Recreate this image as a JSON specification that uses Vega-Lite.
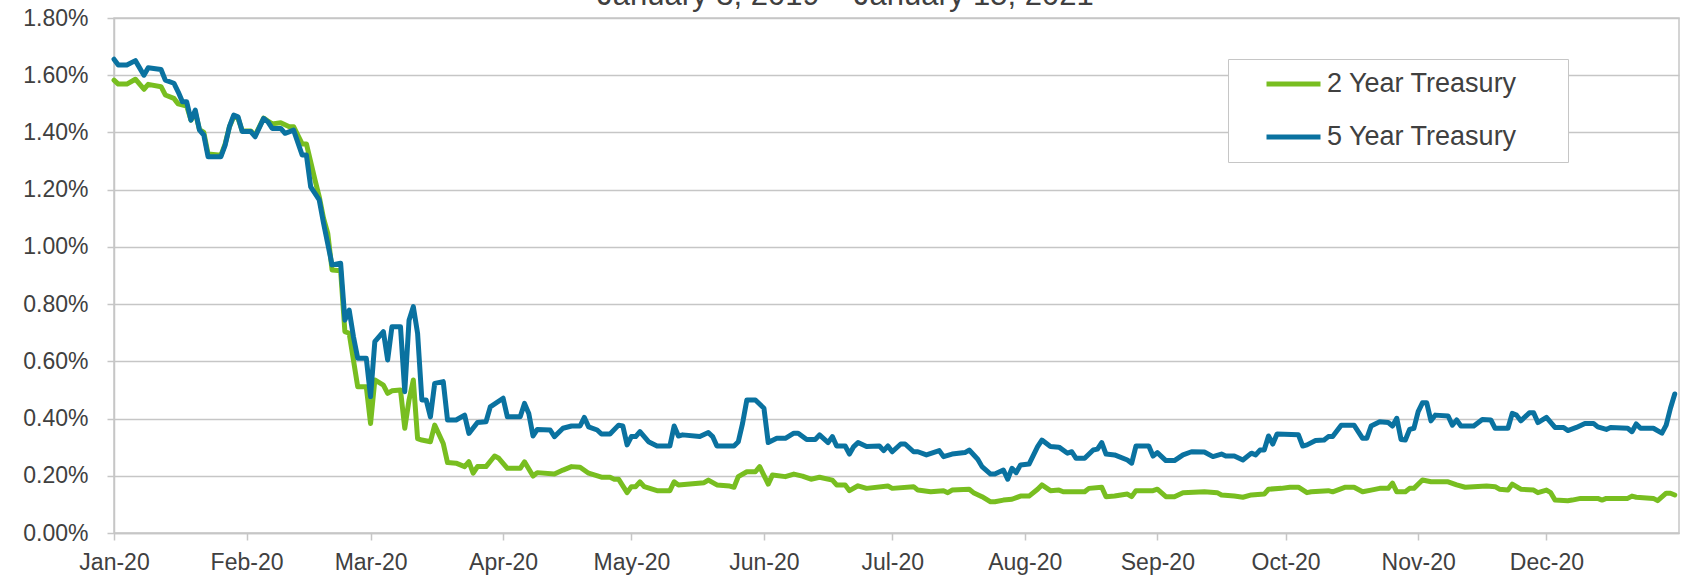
{
  "$schema": "https://vega.github.io/schema/vega-lite/v6.json",
  "autosize": "none",
  "width": 1565,
  "height": 515,
  "padding": {"left": 114, "top": 18, "right": 6, "bottom": 48},
  "background": "white",
  "config": {
    "font": "Liberation Sans",
    "view": {"stroke": "#c6c6c6", "strokeWidth": 1.5}
  },
  "title": {
    "text": "January 3, 2019 – January 15, 2021",
    "fontSize": 31,
    "fontWeight": "normal",
    "color": "#404040",
    "anchor": "middle",
    "frame": "group",
    "offset": -5,
    "dx": -51
  },
  "data": {
    "values": [
      {"date":"2020-01-01","series":"2 Year Treasury","yield":1.583},
      {"date":"2020-01-02","series":"2 Year Treasury","yield":1.569},
      {"date":"2020-01-04","series":"2 Year Treasury","yield":1.569},
      {"date":"2020-01-06","series":"2 Year Treasury","yield":1.586},
      {"date":"2020-01-08","series":"2 Year Treasury","yield":1.551},
      {"date":"2020-01-09","series":"2 Year Treasury","yield":1.568},
      {"date":"2020-01-12","series":"2 Year Treasury","yield":1.560},
      {"date":"2020-01-13","series":"2 Year Treasury","yield":1.531},
      {"date":"2020-01-15","series":"2 Year Treasury","yield":1.519},
      {"date":"2020-01-16","series":"2 Year Treasury","yield":1.500},
      {"date":"2020-01-18","series":"2 Year Treasury","yield":1.492},
      {"date":"2020-01-19","series":"2 Year Treasury","yield":1.443},
      {"date":"2020-01-20","series":"2 Year Treasury","yield":1.470},
      {"date":"2020-01-21","series":"2 Year Treasury","yield":1.410},
      {"date":"2020-01-22","series":"2 Year Treasury","yield":1.400},
      {"date":"2020-01-23","series":"2 Year Treasury","yield":1.325},
      {"date":"2020-01-26","series":"2 Year Treasury","yield":1.320},
      {"date":"2020-01-27","series":"2 Year Treasury","yield":1.360},
      {"date":"2020-01-28","series":"2 Year Treasury","yield":1.420},
      {"date":"2020-01-29","series":"2 Year Treasury","yield":1.455},
      {"date":"2020-01-30","series":"2 Year Treasury","yield":1.450},
      {"date":"2020-01-31","series":"2 Year Treasury","yield":1.405},
      {"date":"2020-02-02","series":"2 Year Treasury","yield":1.405},
      {"date":"2020-02-03","series":"2 Year Treasury","yield":1.390},
      {"date":"2020-02-05","series":"2 Year Treasury","yield":1.450},
      {"date":"2020-02-06","series":"2 Year Treasury","yield":1.440},
      {"date":"2020-02-07","series":"2 Year Treasury","yield":1.430},
      {"date":"2020-02-09","series":"2 Year Treasury","yield":1.434},
      {"date":"2020-02-11","series":"2 Year Treasury","yield":1.420},
      {"date":"2020-02-12","series":"2 Year Treasury","yield":1.420},
      {"date":"2020-02-14","series":"2 Year Treasury","yield":1.360},
      {"date":"2020-02-15","series":"2 Year Treasury","yield":1.360},
      {"date":"2020-02-17","series":"2 Year Treasury","yield":1.234},
      {"date":"2020-02-18","series":"2 Year Treasury","yield":1.175},
      {"date":"2020-02-19","series":"2 Year Treasury","yield":1.100},
      {"date":"2020-02-20","series":"2 Year Treasury","yield":1.047},
      {"date":"2020-02-21","series":"2 Year Treasury","yield":0.919},
      {"date":"2020-02-23","series":"2 Year Treasury","yield":0.917},
      {"date":"2020-02-24","series":"2 Year Treasury","yield":0.704},
      {"date":"2020-02-25","series":"2 Year Treasury","yield":0.698},
      {"date":"2020-02-27","series":"2 Year Treasury","yield":0.511},
      {"date":"2020-02-29","series":"2 Year Treasury","yield":0.511},
      {"date":"2020-03-01","series":"2 Year Treasury","yield":0.383},
      {"date":"2020-03-02","series":"2 Year Treasury","yield":0.535},
      {"date":"2020-03-04","series":"2 Year Treasury","yield":0.517},
      {"date":"2020-03-05","series":"2 Year Treasury","yield":0.488},
      {"date":"2020-03-06","series":"2 Year Treasury","yield":0.497},
      {"date":"2020-03-08","series":"2 Year Treasury","yield":0.500},
      {"date":"2020-03-09","series":"2 Year Treasury","yield":0.366},
      {"date":"2020-03-10","series":"2 Year Treasury","yield":0.465},
      {"date":"2020-03-11","series":"2 Year Treasury","yield":0.535},
      {"date":"2020-03-12","series":"2 Year Treasury","yield":0.330},
      {"date":"2020-03-13","series":"2 Year Treasury","yield":0.325},
      {"date":"2020-03-15","series":"2 Year Treasury","yield":0.319},
      {"date":"2020-03-16","series":"2 Year Treasury","yield":0.377},
      {"date":"2020-03-18","series":"2 Year Treasury","yield":0.313},
      {"date":"2020-03-19","series":"2 Year Treasury","yield":0.246},
      {"date":"2020-03-21","series":"2 Year Treasury","yield":0.244},
      {"date":"2020-03-23","series":"2 Year Treasury","yield":0.232},
      {"date":"2020-03-24","series":"2 Year Treasury","yield":0.249},
      {"date":"2020-03-25","series":"2 Year Treasury","yield":0.209},
      {"date":"2020-03-26","series":"2 Year Treasury","yield":0.232},
      {"date":"2020-03-28","series":"2 Year Treasury","yield":0.232},
      {"date":"2020-03-30","series":"2 Year Treasury","yield":0.269},
      {"date":"2020-03-31","series":"2 Year Treasury","yield":0.261},
      {"date":"2020-04-02","series":"2 Year Treasury","yield":0.226},
      {"date":"2020-04-05","series":"2 Year Treasury","yield":0.226},
      {"date":"2020-04-06","series":"2 Year Treasury","yield":0.249},
      {"date":"2020-04-08","series":"2 Year Treasury","yield":0.199},
      {"date":"2020-04-09","series":"2 Year Treasury","yield":0.211},
      {"date":"2020-04-13","series":"2 Year Treasury","yield":0.206},
      {"date":"2020-04-15","series":"2 Year Treasury","yield":0.220},
      {"date":"2020-04-17","series":"2 Year Treasury","yield":0.232},
      {"date":"2020-04-19","series":"2 Year Treasury","yield":0.230},
      {"date":"2020-04-21","series":"2 Year Treasury","yield":0.209},
      {"date":"2020-04-24","series":"2 Year Treasury","yield":0.195},
      {"date":"2020-04-26","series":"2 Year Treasury","yield":0.195},
      {"date":"2020-04-27","series":"2 Year Treasury","yield":0.188},
      {"date":"2020-04-28","series":"2 Year Treasury","yield":0.188},
      {"date":"2020-04-30","series":"2 Year Treasury","yield":0.141},
      {"date":"2020-05-01","series":"2 Year Treasury","yield":0.162},
      {"date":"2020-05-02","series":"2 Year Treasury","yield":0.162},
      {"date":"2020-05-03","series":"2 Year Treasury","yield":0.179},
      {"date":"2020-05-04","series":"2 Year Treasury","yield":0.162},
      {"date":"2020-05-07","series":"2 Year Treasury","yield":0.148},
      {"date":"2020-05-10","series":"2 Year Treasury","yield":0.148},
      {"date":"2020-05-11","series":"2 Year Treasury","yield":0.179},
      {"date":"2020-05-12","series":"2 Year Treasury","yield":0.168},
      {"date":"2020-05-18","series":"2 Year Treasury","yield":0.176},
      {"date":"2020-05-19","series":"2 Year Treasury","yield":0.185},
      {"date":"2020-05-21","series":"2 Year Treasury","yield":0.168},
      {"date":"2020-05-24","series":"2 Year Treasury","yield":0.164},
      {"date":"2020-05-25","series":"2 Year Treasury","yield":0.160},
      {"date":"2020-05-26","series":"2 Year Treasury","yield":0.197},
      {"date":"2020-05-28","series":"2 Year Treasury","yield":0.214},
      {"date":"2020-05-30","series":"2 Year Treasury","yield":0.214},
      {"date":"2020-05-31","series":"2 Year Treasury","yield":0.232},
      {"date":"2020-06-02","series":"2 Year Treasury","yield":0.171},
      {"date":"2020-06-03","series":"2 Year Treasury","yield":0.203},
      {"date":"2020-06-06","series":"2 Year Treasury","yield":0.197},
      {"date":"2020-06-08","series":"2 Year Treasury","yield":0.206},
      {"date":"2020-06-10","series":"2 Year Treasury","yield":0.199},
      {"date":"2020-06-12","series":"2 Year Treasury","yield":0.188},
      {"date":"2020-06-14","series":"2 Year Treasury","yield":0.195},
      {"date":"2020-06-17","series":"2 Year Treasury","yield":0.185},
      {"date":"2020-06-18","series":"2 Year Treasury","yield":0.168},
      {"date":"2020-06-20","series":"2 Year Treasury","yield":0.168},
      {"date":"2020-06-21","series":"2 Year Treasury","yield":0.148},
      {"date":"2020-06-23","series":"2 Year Treasury","yield":0.165},
      {"date":"2020-06-25","series":"2 Year Treasury","yield":0.156},
      {"date":"2020-06-30","series":"2 Year Treasury","yield":0.164},
      {"date":"2020-07-01","series":"2 Year Treasury","yield":0.156},
      {"date":"2020-07-06","series":"2 Year Treasury","yield":0.162},
      {"date":"2020-07-07","series":"2 Year Treasury","yield":0.150},
      {"date":"2020-07-10","series":"2 Year Treasury","yield":0.144},
      {"date":"2020-07-13","series":"2 Year Treasury","yield":0.148},
      {"date":"2020-07-14","series":"2 Year Treasury","yield":0.141},
      {"date":"2020-07-15","series":"2 Year Treasury","yield":0.150},
      {"date":"2020-07-19","series":"2 Year Treasury","yield":0.153},
      {"date":"2020-07-20","series":"2 Year Treasury","yield":0.141},
      {"date":"2020-07-22","series":"2 Year Treasury","yield":0.127},
      {"date":"2020-07-24","series":"2 Year Treasury","yield":0.109},
      {"date":"2020-07-25","series":"2 Year Treasury","yield":0.109},
      {"date":"2020-07-27","series":"2 Year Treasury","yield":0.115},
      {"date":"2020-07-29","series":"2 Year Treasury","yield":0.118},
      {"date":"2020-07-31","series":"2 Year Treasury","yield":0.129},
      {"date":"2020-08-02","series":"2 Year Treasury","yield":0.129},
      {"date":"2020-08-04","series":"2 Year Treasury","yield":0.153},
      {"date":"2020-08-05","series":"2 Year Treasury","yield":0.168},
      {"date":"2020-08-07","series":"2 Year Treasury","yield":0.148},
      {"date":"2020-08-09","series":"2 Year Treasury","yield":0.150},
      {"date":"2020-08-10","series":"2 Year Treasury","yield":0.144},
      {"date":"2020-08-15","series":"2 Year Treasury","yield":0.144},
      {"date":"2020-08-16","series":"2 Year Treasury","yield":0.156},
      {"date":"2020-08-19","series":"2 Year Treasury","yield":0.160},
      {"date":"2020-08-20","series":"2 Year Treasury","yield":0.127},
      {"date":"2020-08-22","series":"2 Year Treasury","yield":0.129},
      {"date":"2020-08-25","series":"2 Year Treasury","yield":0.136},
      {"date":"2020-08-26","series":"2 Year Treasury","yield":0.127},
      {"date":"2020-08-27","series":"2 Year Treasury","yield":0.148},
      {"date":"2020-08-31","series":"2 Year Treasury","yield":0.148},
      {"date":"2020-09-01","series":"2 Year Treasury","yield":0.153},
      {"date":"2020-09-03","series":"2 Year Treasury","yield":0.127},
      {"date":"2020-09-05","series":"2 Year Treasury","yield":0.127},
      {"date":"2020-09-07","series":"2 Year Treasury","yield":0.141},
      {"date":"2020-09-12","series":"2 Year Treasury","yield":0.144},
      {"date":"2020-09-15","series":"2 Year Treasury","yield":0.141},
      {"date":"2020-09-16","series":"2 Year Treasury","yield":0.133},
      {"date":"2020-09-19","series":"2 Year Treasury","yield":0.129},
      {"date":"2020-09-21","series":"2 Year Treasury","yield":0.125},
      {"date":"2020-09-23","series":"2 Year Treasury","yield":0.133},
      {"date":"2020-09-26","series":"2 Year Treasury","yield":0.136},
      {"date":"2020-09-27","series":"2 Year Treasury","yield":0.153},
      {"date":"2020-09-30","series":"2 Year Treasury","yield":0.156},
      {"date":"2020-10-02","series":"2 Year Treasury","yield":0.160},
      {"date":"2020-10-04","series":"2 Year Treasury","yield":0.160},
      {"date":"2020-10-06","series":"2 Year Treasury","yield":0.141},
      {"date":"2020-10-07","series":"2 Year Treasury","yield":0.144},
      {"date":"2020-10-11","series":"2 Year Treasury","yield":0.148},
      {"date":"2020-10-12","series":"2 Year Treasury","yield":0.144},
      {"date":"2020-10-15","series":"2 Year Treasury","yield":0.160},
      {"date":"2020-10-17","series":"2 Year Treasury","yield":0.160},
      {"date":"2020-10-19","series":"2 Year Treasury","yield":0.144},
      {"date":"2020-10-21","series":"2 Year Treasury","yield":0.150},
      {"date":"2020-10-23","series":"2 Year Treasury","yield":0.156},
      {"date":"2020-10-25","series":"2 Year Treasury","yield":0.156},
      {"date":"2020-10-26","series":"2 Year Treasury","yield":0.174},
      {"date":"2020-10-27","series":"2 Year Treasury","yield":0.144},
      {"date":"2020-10-29","series":"2 Year Treasury","yield":0.144},
      {"date":"2020-10-30","series":"2 Year Treasury","yield":0.156},
      {"date":"2020-10-31","series":"2 Year Treasury","yield":0.156},
      {"date":"2020-11-02","series":"2 Year Treasury","yield":0.185},
      {"date":"2020-11-04","series":"2 Year Treasury","yield":0.179},
      {"date":"2020-11-08","series":"2 Year Treasury","yield":0.179},
      {"date":"2020-11-10","series":"2 Year Treasury","yield":0.168},
      {"date":"2020-11-12","series":"2 Year Treasury","yield":0.160},
      {"date":"2020-11-17","series":"2 Year Treasury","yield":0.164},
      {"date":"2020-11-19","series":"2 Year Treasury","yield":0.162},
      {"date":"2020-11-20","series":"2 Year Treasury","yield":0.153},
      {"date":"2020-11-22","series":"2 Year Treasury","yield":0.150},
      {"date":"2020-11-23","series":"2 Year Treasury","yield":0.171},
      {"date":"2020-11-25","series":"2 Year Treasury","yield":0.153},
      {"date":"2020-11-28","series":"2 Year Treasury","yield":0.150},
      {"date":"2020-11-29","series":"2 Year Treasury","yield":0.141},
      {"date":"2020-12-01","series":"2 Year Treasury","yield":0.150},
      {"date":"2020-12-02","series":"2 Year Treasury","yield":0.141},
      {"date":"2020-12-03","series":"2 Year Treasury","yield":0.115},
      {"date":"2020-12-06","series":"2 Year Treasury","yield":0.113},
      {"date":"2020-12-07","series":"2 Year Treasury","yield":0.115},
      {"date":"2020-12-09","series":"2 Year Treasury","yield":0.121},
      {"date":"2020-12-13","series":"2 Year Treasury","yield":0.121},
      {"date":"2020-12-14","series":"2 Year Treasury","yield":0.115},
      {"date":"2020-12-15","series":"2 Year Treasury","yield":0.121},
      {"date":"2020-12-20","series":"2 Year Treasury","yield":0.121},
      {"date":"2020-12-21","series":"2 Year Treasury","yield":0.129},
      {"date":"2020-12-22","series":"2 Year Treasury","yield":0.125},
      {"date":"2020-12-26","series":"2 Year Treasury","yield":0.121},
      {"date":"2020-12-27","series":"2 Year Treasury","yield":0.113},
      {"date":"2020-12-29","series":"2 Year Treasury","yield":0.139},
      {"date":"2020-12-30","series":"2 Year Treasury","yield":0.139},
      {"date":"2020-12-31","series":"2 Year Treasury","yield":0.133},
      {"date":"2020-01-01","series":"5 Year Treasury","yield":1.656},
      {"date":"2020-01-02","series":"5 Year Treasury","yield":1.636},
      {"date":"2020-01-04","series":"5 Year Treasury","yield":1.636},
      {"date":"2020-01-06","series":"5 Year Treasury","yield":1.651},
      {"date":"2020-01-08","series":"5 Year Treasury","yield":1.600},
      {"date":"2020-01-09","series":"5 Year Treasury","yield":1.626},
      {"date":"2020-01-12","series":"5 Year Treasury","yield":1.620},
      {"date":"2020-01-13","series":"5 Year Treasury","yield":1.583},
      {"date":"2020-01-15","series":"5 Year Treasury","yield":1.572},
      {"date":"2020-01-16","series":"5 Year Treasury","yield":1.542},
      {"date":"2020-01-17","series":"5 Year Treasury","yield":1.507},
      {"date":"2020-01-18","series":"5 Year Treasury","yield":1.507},
      {"date":"2020-01-19","series":"5 Year Treasury","yield":1.443},
      {"date":"2020-01-20","series":"5 Year Treasury","yield":1.478},
      {"date":"2020-01-21","series":"5 Year Treasury","yield":1.408},
      {"date":"2020-01-22","series":"5 Year Treasury","yield":1.391},
      {"date":"2020-01-23","series":"5 Year Treasury","yield":1.315},
      {"date":"2020-01-26","series":"5 Year Treasury","yield":1.315},
      {"date":"2020-01-27","series":"5 Year Treasury","yield":1.356},
      {"date":"2020-01-28","series":"5 Year Treasury","yield":1.420},
      {"date":"2020-01-29","series":"5 Year Treasury","yield":1.461},
      {"date":"2020-01-30","series":"5 Year Treasury","yield":1.455},
      {"date":"2020-01-31","series":"5 Year Treasury","yield":1.403},
      {"date":"2020-02-02","series":"5 Year Treasury","yield":1.403},
      {"date":"2020-02-03","series":"5 Year Treasury","yield":1.385},
      {"date":"2020-02-05","series":"5 Year Treasury","yield":1.449},
      {"date":"2020-02-06","series":"5 Year Treasury","yield":1.437},
      {"date":"2020-02-07","series":"5 Year Treasury","yield":1.414},
      {"date":"2020-02-09","series":"5 Year Treasury","yield":1.414},
      {"date":"2020-02-10","series":"5 Year Treasury","yield":1.397},
      {"date":"2020-02-12","series":"5 Year Treasury","yield":1.408},
      {"date":"2020-02-14","series":"5 Year Treasury","yield":1.321},
      {"date":"2020-02-15","series":"5 Year Treasury","yield":1.321},
      {"date":"2020-02-16","series":"5 Year Treasury","yield":1.210},
      {"date":"2020-02-18","series":"5 Year Treasury","yield":1.164},
      {"date":"2020-02-19","series":"5 Year Treasury","yield":1.083},
      {"date":"2020-02-21","series":"5 Year Treasury","yield":0.937},
      {"date":"2020-02-23","series":"5 Year Treasury","yield":0.943},
      {"date":"2020-02-24","series":"5 Year Treasury","yield":0.744},
      {"date":"2020-02-25","series":"5 Year Treasury","yield":0.779},
      {"date":"2020-02-26","series":"5 Year Treasury","yield":0.686},
      {"date":"2020-02-27","series":"5 Year Treasury","yield":0.611},
      {"date":"2020-02-29","series":"5 Year Treasury","yield":0.611},
      {"date":"2020-03-01","series":"5 Year Treasury","yield":0.476},
      {"date":"2020-03-02","series":"5 Year Treasury","yield":0.669},
      {"date":"2020-03-04","series":"5 Year Treasury","yield":0.704},
      {"date":"2020-03-05","series":"5 Year Treasury","yield":0.605},
      {"date":"2020-03-06","series":"5 Year Treasury","yield":0.721},
      {"date":"2020-03-08","series":"5 Year Treasury","yield":0.721},
      {"date":"2020-03-09","series":"5 Year Treasury","yield":0.494},
      {"date":"2020-03-10","series":"5 Year Treasury","yield":0.744},
      {"date":"2020-03-11","series":"5 Year Treasury","yield":0.791},
      {"date":"2020-03-12","series":"5 Year Treasury","yield":0.698},
      {"date":"2020-03-13","series":"5 Year Treasury","yield":0.465},
      {"date":"2020-03-14","series":"5 Year Treasury","yield":0.465},
      {"date":"2020-03-15","series":"5 Year Treasury","yield":0.406},
      {"date":"2020-03-16","series":"5 Year Treasury","yield":0.523},
      {"date":"2020-03-18","series":"5 Year Treasury","yield":0.529},
      {"date":"2020-03-19","series":"5 Year Treasury","yield":0.395},
      {"date":"2020-03-21","series":"5 Year Treasury","yield":0.395},
      {"date":"2020-03-23","series":"5 Year Treasury","yield":0.412},
      {"date":"2020-03-24","series":"5 Year Treasury","yield":0.348},
      {"date":"2020-03-26","series":"5 Year Treasury","yield":0.386},
      {"date":"2020-03-28","series":"5 Year Treasury","yield":0.389},
      {"date":"2020-03-29","series":"5 Year Treasury","yield":0.441},
      {"date":"2020-04-01","series":"5 Year Treasury","yield":0.471},
      {"date":"2020-04-02","series":"5 Year Treasury","yield":0.406},
      {"date":"2020-04-05","series":"5 Year Treasury","yield":0.406},
      {"date":"2020-04-06","series":"5 Year Treasury","yield":0.453},
      {"date":"2020-04-07","series":"5 Year Treasury","yield":0.418},
      {"date":"2020-04-08","series":"5 Year Treasury","yield":0.339},
      {"date":"2020-04-09","series":"5 Year Treasury","yield":0.362},
      {"date":"2020-04-12","series":"5 Year Treasury","yield":0.360},
      {"date":"2020-04-13","series":"5 Year Treasury","yield":0.337},
      {"date":"2020-04-15","series":"5 Year Treasury","yield":0.366},
      {"date":"2020-04-17","series":"5 Year Treasury","yield":0.374},
      {"date":"2020-04-19","series":"5 Year Treasury","yield":0.374},
      {"date":"2020-04-20","series":"5 Year Treasury","yield":0.404},
      {"date":"2020-04-21","series":"5 Year Treasury","yield":0.371},
      {"date":"2020-04-23","series":"5 Year Treasury","yield":0.360},
      {"date":"2020-04-24","series":"5 Year Treasury","yield":0.346},
      {"date":"2020-04-26","series":"5 Year Treasury","yield":0.346},
      {"date":"2020-04-28","series":"5 Year Treasury","yield":0.377},
      {"date":"2020-04-29","series":"5 Year Treasury","yield":0.374},
      {"date":"2020-04-30","series":"5 Year Treasury","yield":0.308},
      {"date":"2020-05-01","series":"5 Year Treasury","yield":0.337},
      {"date":"2020-05-02","series":"5 Year Treasury","yield":0.337},
      {"date":"2020-05-03","series":"5 Year Treasury","yield":0.354},
      {"date":"2020-05-05","series":"5 Year Treasury","yield":0.319},
      {"date":"2020-05-07","series":"5 Year Treasury","yield":0.304},
      {"date":"2020-05-10","series":"5 Year Treasury","yield":0.304},
      {"date":"2020-05-11","series":"5 Year Treasury","yield":0.374},
      {"date":"2020-05-12","series":"5 Year Treasury","yield":0.339},
      {"date":"2020-05-13","series":"5 Year Treasury","yield":0.343},
      {"date":"2020-05-17","series":"5 Year Treasury","yield":0.337},
      {"date":"2020-05-19","series":"5 Year Treasury","yield":0.351},
      {"date":"2020-05-20","series":"5 Year Treasury","yield":0.337},
      {"date":"2020-05-21","series":"5 Year Treasury","yield":0.304},
      {"date":"2020-05-25","series":"5 Year Treasury","yield":0.304},
      {"date":"2020-05-26","series":"5 Year Treasury","yield":0.319},
      {"date":"2020-05-27","series":"5 Year Treasury","yield":0.383},
      {"date":"2020-05-28","series":"5 Year Treasury","yield":0.465},
      {"date":"2020-05-30","series":"5 Year Treasury","yield":0.465},
      {"date":"2020-06-01","series":"5 Year Treasury","yield":0.436},
      {"date":"2020-06-02","series":"5 Year Treasury","yield":0.316},
      {"date":"2020-06-04","series":"5 Year Treasury","yield":0.331},
      {"date":"2020-06-06","series":"5 Year Treasury","yield":0.331},
      {"date":"2020-06-08","series":"5 Year Treasury","yield":0.349},
      {"date":"2020-06-09","series":"5 Year Treasury","yield":0.349},
      {"date":"2020-06-11","series":"5 Year Treasury","yield":0.327},
      {"date":"2020-06-13","series":"5 Year Treasury","yield":0.327},
      {"date":"2020-06-14","series":"5 Year Treasury","yield":0.343},
      {"date":"2020-06-16","series":"5 Year Treasury","yield":0.316},
      {"date":"2020-06-17","series":"5 Year Treasury","yield":0.337},
      {"date":"2020-06-18","series":"5 Year Treasury","yield":0.304},
      {"date":"2020-06-20","series":"5 Year Treasury","yield":0.304},
      {"date":"2020-06-21","series":"5 Year Treasury","yield":0.276},
      {"date":"2020-06-22","series":"5 Year Treasury","yield":0.302},
      {"date":"2020-06-23","series":"5 Year Treasury","yield":0.316},
      {"date":"2020-06-25","series":"5 Year Treasury","yield":0.302},
      {"date":"2020-06-28","series":"5 Year Treasury","yield":0.304},
      {"date":"2020-06-29","series":"5 Year Treasury","yield":0.288},
      {"date":"2020-06-30","series":"5 Year Treasury","yield":0.304},
      {"date":"2020-07-01","series":"5 Year Treasury","yield":0.284},
      {"date":"2020-07-03","series":"5 Year Treasury","yield":0.311},
      {"date":"2020-07-04","series":"5 Year Treasury","yield":0.311},
      {"date":"2020-07-06","series":"5 Year Treasury","yield":0.284},
      {"date":"2020-07-07","series":"5 Year Treasury","yield":0.284},
      {"date":"2020-07-09","series":"5 Year Treasury","yield":0.273},
      {"date":"2020-07-12","series":"5 Year Treasury","yield":0.288},
      {"date":"2020-07-13","series":"5 Year Treasury","yield":0.267},
      {"date":"2020-07-15","series":"5 Year Treasury","yield":0.276},
      {"date":"2020-07-18","series":"5 Year Treasury","yield":0.281},
      {"date":"2020-07-19","series":"5 Year Treasury","yield":0.290},
      {"date":"2020-07-21","series":"5 Year Treasury","yield":0.258},
      {"date":"2020-07-22","series":"5 Year Treasury","yield":0.232},
      {"date":"2020-07-24","series":"5 Year Treasury","yield":0.206},
      {"date":"2020-07-25","series":"5 Year Treasury","yield":0.206},
      {"date":"2020-07-27","series":"5 Year Treasury","yield":0.220},
      {"date":"2020-07-28","series":"5 Year Treasury","yield":0.188},
      {"date":"2020-07-29","series":"5 Year Treasury","yield":0.226},
      {"date":"2020-07-30","series":"5 Year Treasury","yield":0.211},
      {"date":"2020-07-31","series":"5 Year Treasury","yield":0.238},
      {"date":"2020-08-02","series":"5 Year Treasury","yield":0.241},
      {"date":"2020-08-04","series":"5 Year Treasury","yield":0.302},
      {"date":"2020-08-05","series":"5 Year Treasury","yield":0.325},
      {"date":"2020-08-07","series":"5 Year Treasury","yield":0.302},
      {"date":"2020-08-09","series":"5 Year Treasury","yield":0.300},
      {"date":"2020-08-11","series":"5 Year Treasury","yield":0.279},
      {"date":"2020-08-12","series":"5 Year Treasury","yield":0.284},
      {"date":"2020-08-13","series":"5 Year Treasury","yield":0.261},
      {"date":"2020-08-15","series":"5 Year Treasury","yield":0.261},
      {"date":"2020-08-17","series":"5 Year Treasury","yield":0.290},
      {"date":"2020-08-18","series":"5 Year Treasury","yield":0.293},
      {"date":"2020-08-19","series":"5 Year Treasury","yield":0.316},
      {"date":"2020-08-20","series":"5 Year Treasury","yield":0.276},
      {"date":"2020-08-22","series":"5 Year Treasury","yield":0.273},
      {"date":"2020-08-25","series":"5 Year Treasury","yield":0.255},
      {"date":"2020-08-26","series":"5 Year Treasury","yield":0.244},
      {"date":"2020-08-27","series":"5 Year Treasury","yield":0.304},
      {"date":"2020-08-30","series":"5 Year Treasury","yield":0.304},
      {"date":"2020-08-31","series":"5 Year Treasury","yield":0.269},
      {"date":"2020-09-01","series":"5 Year Treasury","yield":0.281},
      {"date":"2020-09-03","series":"5 Year Treasury","yield":0.253},
      {"date":"2020-09-05","series":"5 Year Treasury","yield":0.253},
      {"date":"2020-09-07","series":"5 Year Treasury","yield":0.273},
      {"date":"2020-09-09","series":"5 Year Treasury","yield":0.284},
      {"date":"2020-09-12","series":"5 Year Treasury","yield":0.283},
      {"date":"2020-09-14","series":"5 Year Treasury","yield":0.267},
      {"date":"2020-09-16","series":"5 Year Treasury","yield":0.276},
      {"date":"2020-09-17","series":"5 Year Treasury","yield":0.269},
      {"date":"2020-09-19","series":"5 Year Treasury","yield":0.269},
      {"date":"2020-09-21","series":"5 Year Treasury","yield":0.255},
      {"date":"2020-09-23","series":"5 Year Treasury","yield":0.279},
      {"date":"2020-09-24","series":"5 Year Treasury","yield":0.273},
      {"date":"2020-09-25","series":"5 Year Treasury","yield":0.290},
      {"date":"2020-09-26","series":"5 Year Treasury","yield":0.290},
      {"date":"2020-09-27","series":"5 Year Treasury","yield":0.339},
      {"date":"2020-09-28","series":"5 Year Treasury","yield":0.311},
      {"date":"2020-09-29","series":"5 Year Treasury","yield":0.346},
      {"date":"2020-10-04","series":"5 Year Treasury","yield":0.343},
      {"date":"2020-10-05","series":"5 Year Treasury","yield":0.304},
      {"date":"2020-10-06","series":"5 Year Treasury","yield":0.308},
      {"date":"2020-10-08","series":"5 Year Treasury","yield":0.323},
      {"date":"2020-10-10","series":"5 Year Treasury","yield":0.325},
      {"date":"2020-10-11","series":"5 Year Treasury","yield":0.337},
      {"date":"2020-10-12","series":"5 Year Treasury","yield":0.337},
      {"date":"2020-10-14","series":"5 Year Treasury","yield":0.377},
      {"date":"2020-10-17","series":"5 Year Treasury","yield":0.377},
      {"date":"2020-10-19","series":"5 Year Treasury","yield":0.331},
      {"date":"2020-10-20","series":"5 Year Treasury","yield":0.331},
      {"date":"2020-10-21","series":"5 Year Treasury","yield":0.374},
      {"date":"2020-10-23","series":"5 Year Treasury","yield":0.389},
      {"date":"2020-10-25","series":"5 Year Treasury","yield":0.386},
      {"date":"2020-10-26","series":"5 Year Treasury","yield":0.374},
      {"date":"2020-10-27","series":"5 Year Treasury","yield":0.401},
      {"date":"2020-10-28","series":"5 Year Treasury","yield":0.327},
      {"date":"2020-10-29","series":"5 Year Treasury","yield":0.325},
      {"date":"2020-10-30","series":"5 Year Treasury","yield":0.362},
      {"date":"2020-10-31","series":"5 Year Treasury","yield":0.366},
      {"date":"2020-11-01","series":"5 Year Treasury","yield":0.424},
      {"date":"2020-11-02","series":"5 Year Treasury","yield":0.455},
      {"date":"2020-11-03","series":"5 Year Treasury","yield":0.455},
      {"date":"2020-11-04","series":"5 Year Treasury","yield":0.392},
      {"date":"2020-11-05","series":"5 Year Treasury","yield":0.412},
      {"date":"2020-11-08","series":"5 Year Treasury","yield":0.409},
      {"date":"2020-11-09","series":"5 Year Treasury","yield":0.377},
      {"date":"2020-11-10","series":"5 Year Treasury","yield":0.395},
      {"date":"2020-11-11","series":"5 Year Treasury","yield":0.374},
      {"date":"2020-11-14","series":"5 Year Treasury","yield":0.374},
      {"date":"2020-11-16","series":"5 Year Treasury","yield":0.397},
      {"date":"2020-11-18","series":"5 Year Treasury","yield":0.395},
      {"date":"2020-11-19","series":"5 Year Treasury","yield":0.366},
      {"date":"2020-11-22","series":"5 Year Treasury","yield":0.366},
      {"date":"2020-11-23","series":"5 Year Treasury","yield":0.418},
      {"date":"2020-11-24","series":"5 Year Treasury","yield":0.412},
      {"date":"2020-11-25","series":"5 Year Treasury","yield":0.392},
      {"date":"2020-11-27","series":"5 Year Treasury","yield":0.420},
      {"date":"2020-11-28","series":"5 Year Treasury","yield":0.420},
      {"date":"2020-11-29","series":"5 Year Treasury","yield":0.386},
      {"date":"2020-12-01","series":"5 Year Treasury","yield":0.404},
      {"date":"2020-12-03","series":"5 Year Treasury","yield":0.369},
      {"date":"2020-12-05","series":"5 Year Treasury","yield":0.369},
      {"date":"2020-12-06","series":"5 Year Treasury","yield":0.358},
      {"date":"2020-12-08","series":"5 Year Treasury","yield":0.369},
      {"date":"2020-12-10","series":"5 Year Treasury","yield":0.383},
      {"date":"2020-12-12","series":"5 Year Treasury","yield":0.383},
      {"date":"2020-12-13","series":"5 Year Treasury","yield":0.371},
      {"date":"2020-12-15","series":"5 Year Treasury","yield":0.362},
      {"date":"2020-12-16","series":"5 Year Treasury","yield":0.369},
      {"date":"2020-12-20","series":"5 Year Treasury","yield":0.366},
      {"date":"2020-12-21","series":"5 Year Treasury","yield":0.354},
      {"date":"2020-12-22","series":"5 Year Treasury","yield":0.381},
      {"date":"2020-12-23","series":"5 Year Treasury","yield":0.366},
      {"date":"2020-12-26","series":"5 Year Treasury","yield":0.366},
      {"date":"2020-12-28","series":"5 Year Treasury","yield":0.349},
      {"date":"2020-12-29","series":"5 Year Treasury","yield":0.377},
      {"date":"2020-12-30","series":"5 Year Treasury","yield":0.436},
      {"date":"2020-12-31","series":"5 Year Treasury","yield":0.486}
    ]
  },
  "mark": {"type": "line", "strokeWidth": 5, "strokeJoin": "round", "strokeCap": "round"},
  "encoding": {
    "x": {
      "field": "date",
      "type": "temporal",
      "scale": {
        "type": "utc",
        "domain": [
          {"year": 2020, "month": 1, "date": 1, "utc": true},
          {"year": 2021, "month": 1, "date": 1, "utc": true}
        ]
      },
      "axis": {
        "title": null,
        "grid": false,
        "format": "%b-%y",
        "values": [
          {"year": 2020, "month": 1, "date": 1, "utc": true},
          {"year": 2020, "month": 2, "date": 1, "utc": true},
          {"year": 2020, "month": 3, "date": 1, "utc": true},
          {"year": 2020, "month": 4, "date": 1, "utc": true},
          {"year": 2020, "month": 5, "date": 1, "utc": true},
          {"year": 2020, "month": 6, "date": 1, "utc": true},
          {"year": 2020, "month": 7, "date": 1, "utc": true},
          {"year": 2020, "month": 8, "date": 1, "utc": true},
          {"year": 2020, "month": 9, "date": 1, "utc": true},
          {"year": 2020, "month": 10, "date": 1, "utc": true},
          {"year": 2020, "month": 11, "date": 1, "utc": true},
          {"year": 2020, "month": 12, "date": 1, "utc": true}
        ],
        "labelFontSize": 23,
        "labelColor": "#404040",
        "labelPadding": 11,
        "labelFlush": false,
        "labelOverlap": false,
        "domainColor": "#c6c6c6",
        "domainWidth": 1.5,
        "tickColor": "#c6c6c6",
        "tickWidth": 1.5,
        "tickSize": 7
      }
    },
    "y": {
      "field": "yield",
      "type": "quantitative",
      "scale": {"domain": [0, 1.8], "nice": false, "zero": true},
      "axis": {
        "title": null,
        "values": [0, 0.2, 0.4, 0.6, 0.8, 1.0, 1.2, 1.4, 1.6, 1.8],
        "labelExpr": "format(datum.value, '.2f') + '%'",
        "labelFontSize": 23,
        "labelColor": "#404040",
        "labelPadding": 19,
        "labelFlush": false,
        "labelOverlap": false,
        "grid": true,
        "gridColor": "#c6c6c6",
        "gridWidth": 1.5,
        "domainColor": "#c6c6c6",
        "domainWidth": 1.5,
        "tickColor": "#c6c6c6",
        "tickWidth": 1.5,
        "tickSize": 7
      }
    },
    "color": {
      "field": "series",
      "type": "nominal",
      "scale": {
        "domain": ["2 Year Treasury", "5 Year Treasury"],
        "range": ["#78BE20", "#0A72A0"]
      },
      "legend": {
        "title": null,
        "orient": "none",
        "legendX": 1114,
        "legendY": 41,
        "padding": 10,
        "fillColor": "white",
        "strokeColor": "#c6c6c6",
        "symbolType": "stroke",
        "symbolSize": 2916,
        "symbolStrokeWidth": 5,
        "clipHeight": 30,
        "rowPadding": 23,
        "symbolOffset": 26,
        "labelOffset": 4,
        "labelFontSize": 27,
        "labelColor": "#404040",
        "labelLimit": 400,
        "labelExpr": "datum.label + '\u2003\u2002\u200b'"
      }
    }
  }
}
